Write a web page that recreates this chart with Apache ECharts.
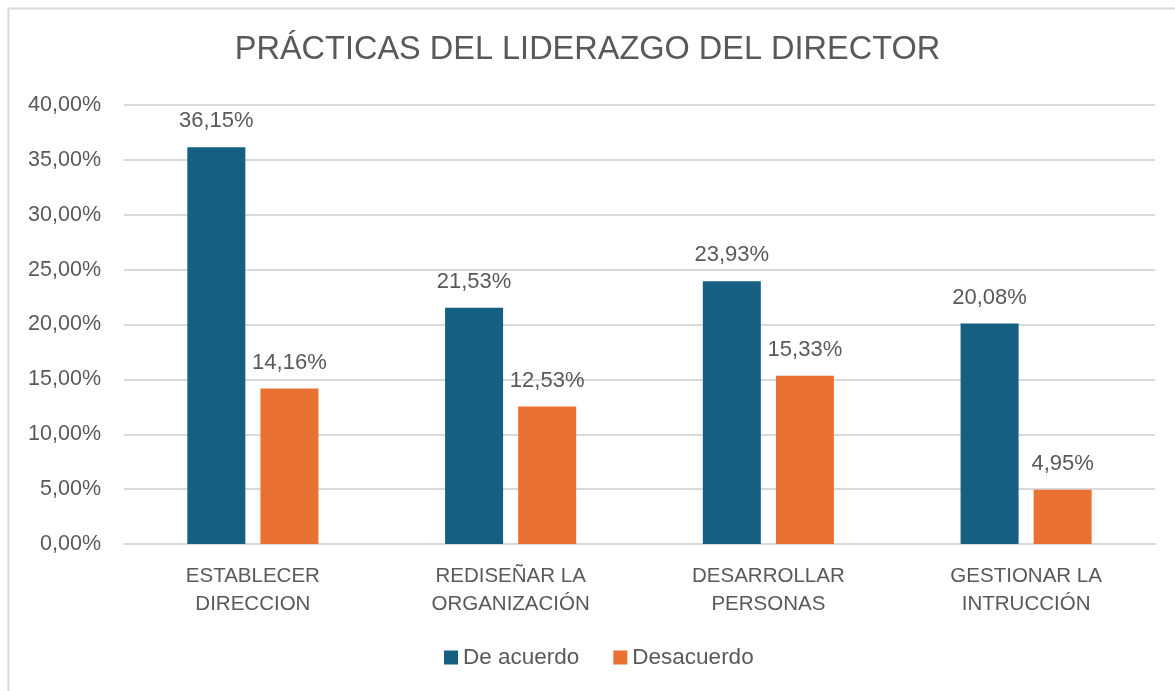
<!DOCTYPE html>
<html>
<head>
<meta charset="utf-8">
<script src="https://cdn.jsdelivr.net/npm/echarts@6/dist/echarts.min.js"></script>
<style>
html,body{margin:0;padding:0;background:#fff;}
#chart{width:1175px;height:691px;}
</style>
</head>
<body>
<div id="chart"></div>
<script>
const categories = ["ESTABLECER\nDIRECCION", "REDISEÑAR LA\nORGANIZACIÓN", "DESARROLLAR\nPERSONAS", "GESTIONAR LA\nINTRUCCIÓN"];
const deAcuerdo = [36.15, 21.53, 23.93, 20.08];
const desacuerdo = [14.16, 12.53, 15.33, 4.95];
const seriesNames = ["De acuerdo", "Desacuerdo"];
const titleText = "PRÁCTICAS DEL LIDERAZGO DEL DIRECTOR";

const FONT = "'Liberation Sans', Arial, sans-serif";
const TXT = "#595959";
const fmt = v => v.toFixed(2).replace('.', ',') + '%';

const chart = echarts.init(document.getElementById('chart'), null, {renderer: 'canvas'});
chart.setOption({
  backgroundColor: '#fff',
  animation: false,
  textStyle: {fontFamily: FONT},
  graphic: [{
    type: 'rect', left: 6, top: 6, silent: true,
    shape: {width: 1200, height: 720},
    style: {fill: 'none', stroke: '#d9d9d9', lineWidth: 2}
  }],
  title: {
    text: titleText, left: 'center', top: 29, padding: [5, 0, 5, 18],
    textStyle: {fontFamily: FONT, fontSize: 32.5, fontWeight: 'normal', color: TXT}
  },
  legend: {
    data: seriesNames, bottom: 22, left: 444, padding: 0,
    itemWidth: 14, itemHeight: 14, itemGap: 34, icon: 'rect',
    textStyle: {fontFamily: FONT, fontSize: 22.5, color: TXT}
  },
  grid: {left: 124, right: 20, top: 105, bottom: 147, containLabel: false},
  xAxis: {
    type: 'category', data: categories,
    axisLine: {show: true, lineStyle: {color: '#d9d9d9', width: 2}},
    axisTick: {show: false},
    axisLabel: {fontFamily: FONT, fontSize: 20.5, color: TXT, lineHeight: 28, margin: 18}
  },
  yAxis: {
    type: 'value', min: 0, max: 40, interval: 5,
    axisLine: {show: false}, axisTick: {show: false},
    splitLine: {lineStyle: {color: '#d9d9d9', width: 2}},
    axisLabel: {fontFamily: FONT, fontSize: 21.5, color: TXT, margin: 23, formatter: v => fmt(v)}
  },
  series: [
    {name: seriesNames[0], type: 'bar', data: deAcuerdo, barWidth: 58, barGap: '26%',
     itemStyle: {color: '#156082'},
     label: {show: true, position: 'top', distance: 15, fontFamily: FONT, fontSize: 22, color: TXT, formatter: p => fmt(p.value)}},
    {name: seriesNames[1], type: 'bar', data: desacuerdo, barWidth: 58,
     itemStyle: {color: '#E97132'},
     label: {show: true, position: 'top', distance: 15, fontFamily: FONT, fontSize: 22, color: TXT, formatter: p => fmt(p.value)}}
  ]
});
</script>
</body>
</html>
